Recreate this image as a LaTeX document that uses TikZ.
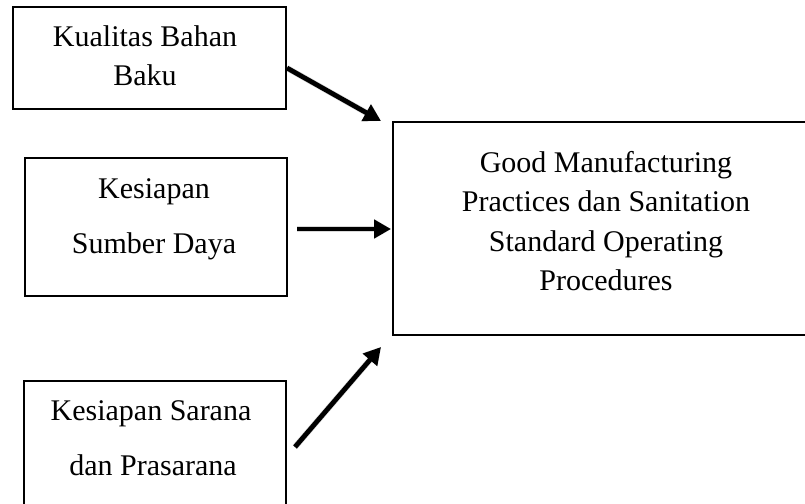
\documentclass[tikz,border=0pt]{standalone}
\usepackage{fontspec}
\setmainfont{Liberation Serif}
\usetikzlibrary{arrows.meta}
\begin{document}
\begin{tikzpicture}[x=1pt,y=-1pt,
  boxstyle/.style={draw=black,line width=1.6pt,inner sep=0pt,anchor=north west},
  txt/.style={anchor=base,inner sep=0pt,font=\fontsize{30}{36}\selectfont},
  arrowstyle/.style={line width=4.8pt,-{Triangle[length=17pt,width=18pt]}},
  shadowstyle/.style={line width=6pt,draw=black,opacity=0.15,-{Triangle[length=17pt,width=19pt]}}]
\clip (0,0) rectangle (805,503);
\fill[white] (0,0) rectangle (805,503);
% boxes
\node[boxstyle,minimum width=273pt,minimum height=102pt] (b1) at (12,6) {};
\node[boxstyle,minimum width=262pt,minimum height=138pt] (b2) at (24,157) {};
\node[boxstyle,minimum width=262pt,minimum height=140pt] (b3) at (23,380) {};
\node[boxstyle,minimum width=428pt,minimum height=213pt] (b4) at (392,121) {};
% texts
\node[txt] (t11) at (145,47) {Kualitas Bahan};
\node[txt] (t12) at (145,85) {Baku};
\node[txt] (t21) at (154,198) {Kesiapan};
\node[txt] (t22) at (154,253) {Sumber Daya};
\node[txt] (t31) at (151,420) {Kesiapan Sarana};
\node[txt] (t32) at (153,475) {dan Prasarana};
\node[txt] (t41) at (606,172) {Good Manufacturing};
\node[txt] (t42) at (606,211) {Practices dan Sanitation};
\node[txt] (t43) at (606,251) {Standard Operating};
\node[txt] (t44) at (606,290) {Procedures};
% arrow end points
\coordinate (a1s) at (287,68);
\coordinate (a1e) at (381,121);
\coordinate (a2s) at (297,229);
\coordinate (a2e) at (391,229);
\coordinate (a3s) at (295,447);
\coordinate (a3e) at (381,347);
% shadows
\begin{scope}[shift={(2,3)}]
\draw[shadowstyle] (a1s) -- (a1e);
\draw[shadowstyle] (a2s) -- (a2e);
\draw[shadowstyle] (a3s) -- (a3e);
\end{scope}
\draw[arrowstyle] (a1s) -- (a1e);
\draw[arrowstyle] (a2s) -- (a2e);
\draw[arrowstyle] (a3s) -- (a3e);
\end{tikzpicture}
\end{document}
